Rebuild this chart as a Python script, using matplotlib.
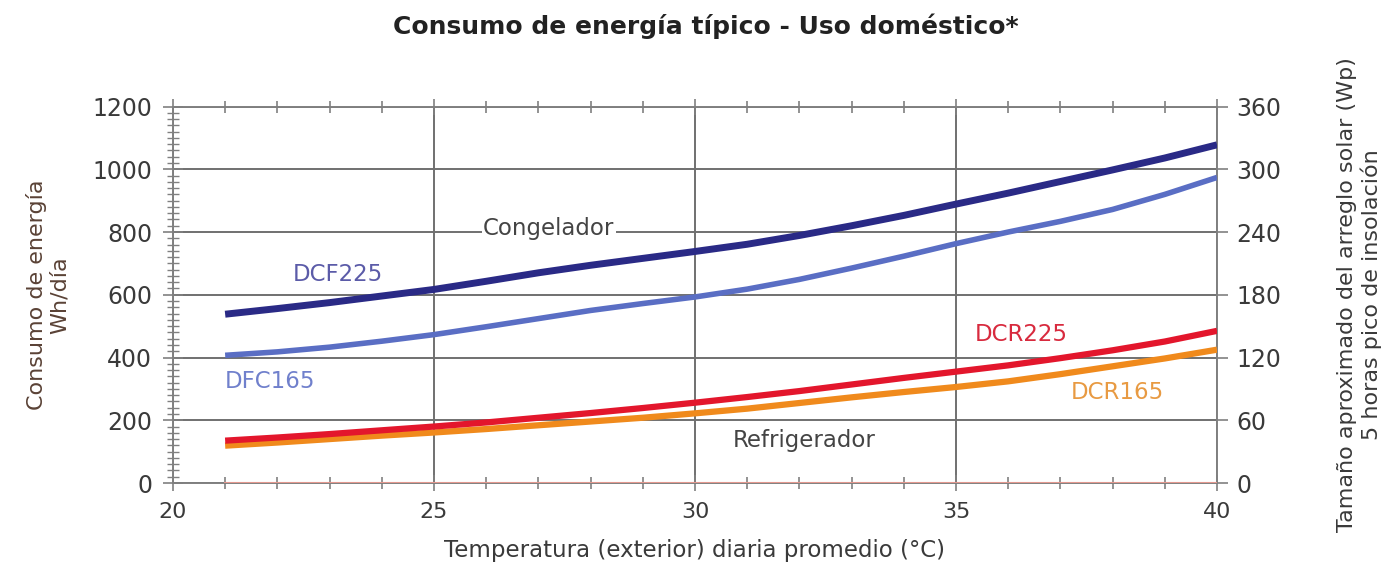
import matplotlib.pyplot as plt
from matplotlib.ticker import MultipleLocator

# temperatura diaria promedio (°C)
temps = [21, 22, 23, 24, 25, 26, 27, 28, 29, 30, 31, 32, 33, 34, 35, 36, 37, 38, 39, 40]

# consumo (Wh/dia)
dcf225 = [538, 556, 575, 596, 617, 643, 670, 694, 716, 738, 761, 789, 820, 853, 889, 924, 961, 998, 1036, 1078]
dfc165 = [407, 418, 433, 452, 473, 498, 524, 550, 572, 593, 618, 649, 685, 723, 763, 800, 834, 872, 920, 974]
dcr225 = [135, 145, 156, 168, 180, 193, 208, 223, 239, 256, 274, 293, 314, 335, 355, 375, 398, 423, 451, 485]
dcr165 = [119, 129, 140, 151, 161, 172, 184, 196, 208, 222, 237, 255, 273, 290, 306, 324, 347, 372, 397, 425]
base = [0] * len(temps)

x_ticks = [20, 25, 30, 35, 40]
y_ticks = [0, 200, 400, 600, 800, 1000, 1200]
wp_ticks = [0, 60, 120, 180, 240, 300, 360]

grey = '#808080'
txt = '#3a3a3a'

fig = plt.figure(figsize=(13.89, 5.79), dpi=100)
ax = fig.add_axes([0.1245, 0.1658, 0.7517, 0.6502])

ax.plot(temps, base, color='#e4988f', lw=1.5, zorder=3)
ax.plot(temps, dcr165, color='#f08a1c', lw=4.5, solid_capstyle='butt', zorder=4)
ax.plot(temps, dcr225, color='#e3162c', lw=4.5, solid_capstyle='butt', zorder=4)
ax.plot(temps, dfc165, color='#5a6ec4', lw=4, solid_capstyle='butt', zorder=4)
ax.plot(temps, dcf225, color='#2a2a86', lw=5, solid_capstyle='butt', zorder=5)

ax.set_xlim(20, 40)
ax.set_ylim(0, 1200)
ax.set_xticks(x_ticks)
ax.set_yticks(y_ticks)
ax.xaxis.set_minor_locator(MultipleLocator(1))
ax.yaxis.set_minor_locator(MultipleLocator(20))
ax.grid(True, which='major', color='#707070', lw=1.4)
ax.set_axisbelow(True)

ax.tick_params(axis='x', which='both', top=True, direction='inout', colors=grey,
               labelcolor=txt, labelsize=16, pad=8)
ax.tick_params(axis='x', which='major', length=12, width=1.2)
ax.tick_params(axis='x', which='minor', length=8, width=1.2)
ax.tick_params(axis='y', which='major', direction='inout', length=14, width=1.2,
               colors=grey, labelcolor=txt, labelsize=17, pad=8)
ax.tick_params(axis='y', which='minor', direction='inout', length=8, width=1.0, colors=grey)
for s in ax.spines.values():
    s.set_color(grey)
    s.set_linewidth(1.4)

ax.set_xlabel('Temperatura (exterior) diaria promedio (°C)', fontsize=16.5, color=txt, labelpad=12)
ax.set_ylabel('Consumo de energía\nWh/día', fontsize=16, color='#5a4236', labelpad=16)

ax2 = ax.twinx()
ax2.set_ylim(0, 360)
ax2.set_yticks(wp_ticks)
ax2.tick_params(axis='y', direction='out', length=8, width=1.2, colors=grey,
                labelcolor=txt, labelsize=17, pad=6)
for s in ax2.spines.values():
    s.set_visible(False)
ax2.set_ylabel('Tamaño aproximado del arreglo solar (Wp)\n5 horas pico de insolación',
               fontsize=16, color=txt, labelpad=40)

bbox = dict(facecolor='white', edgecolor='none', pad=1)
ax.text(27.2, 810, 'Congelador', fontsize=16.5, color='#444444', ha='center', va='center', bbox=bbox, zorder=6)
ax.text(32.1, 137, 'Refrigerador', fontsize=16.5, color='#444444', ha='center', va='center', zorder=6)
ax.text(23.15, 666, 'DCF225', fontsize=16.5, color='#5b5ba8', ha='center', va='center', zorder=6)
ax.text(21.85, 322, 'DFC165', fontsize=16.5, color='#7080cc', ha='center', va='center', zorder=6)
ax.text(36.25, 472, 'DCR225', fontsize=16.5, color='#d82a3e', ha='center', va='center', zorder=6)
ax.text(38.1, 287, 'DCR165', fontsize=16.5, color='#e89a42', ha='center', va='center', zorder=6)

fig.text(0.508, 0.955, 'Consumo de energía típico - Uso doméstico*', fontsize=18,
         fontweight='bold', color='#222222', ha='center', va='center')

fig.savefig('out.png', dpi=100)
